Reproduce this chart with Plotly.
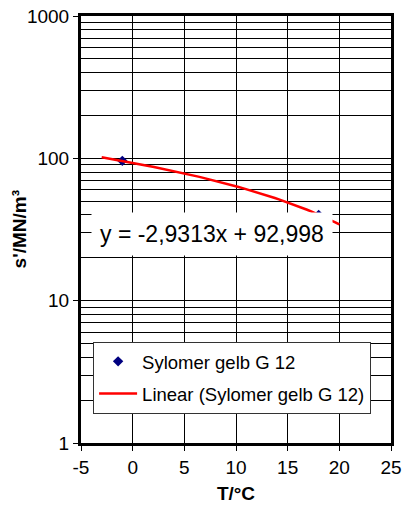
import plotly.graph_objects as go
import numpy as np

# Data
temp_c = [-1, 18]
s_values = [96, 40]
series_name = "Sylomer gelb G 12"
trend_name = "Linear (Sylomer gelb G 12)"
trend_slope = -2.9313
trend_intercept = 92.998
trend_x_range = [-3, 20]
equation_text = "y = -2,9313x + 92,998"
x_title = "T/°C"
y_title = "s'/MN/m³"

y_major = [1, 10, 100, 1000]
y_minor = [m * 10 ** e for e in range(0, 3) for m in range(2, 10)]
x_ticks = [-5, 0, 5, 10, 15, 20, 25]

trend_x = np.linspace(trend_x_range[0], trend_x_range[1], 60)
trend_y = trend_slope * trend_x + trend_intercept

FONT = "Liberation Sans, Arial, sans-serif"

fig = go.Figure()
fig.add_trace(go.Scatter(
    x=temp_c, y=s_values, mode="markers", name=series_name,
    marker=dict(symbol="diamond", size=8, color="#000080"),
    legendgroup="a",
))
fig.add_trace(go.Scatter(
    x=trend_x, y=trend_y, mode="lines", name=trend_name,
    line=dict(color="#FF0000", width=2.5),
    legendgroup="b",
))

fig.add_annotation(
    x=7.7, y=np.log10(29.2), xref="x", yref="y",
    text=equation_text, showarrow=False,
    font=dict(family=FONT, size=23, color="black"),
    bgcolor="white", borderpad=8,
)

# y-axis title placed as rotated text
fig.add_annotation(
    x=-0.197, y=0.50, xref="paper", yref="paper",
    text="<b>" + y_title + "</b>", showarrow=False, textangle=-90,
    xanchor="center", yanchor="middle",
    font=dict(family=FONT, size=19, color="black"),
)

fig.update_layout(
    width=403, height=511,
    margin=dict(l=81, r=12, t=16, b=68),
    paper_bgcolor="white", plot_bgcolor="white",
    font=dict(family=FONT, color="black"),
    showlegend=True,
    legend=dict(
        x=0.039, y=0.237, xanchor="left", yanchor="top",
        bgcolor="white", bordercolor="#333333", borderwidth=1,
        font=dict(family=FONT, size=18.5, color="black"),
        tracegroupgap=5, itemwidth=38,
    ),
)

fig.update_xaxes(
    range=[-5, 25], tickvals=x_ticks, ticktext=[str(v) for v in x_ticks],
    showgrid=True, gridcolor="black", gridwidth=1,
    showline=True, linecolor="black", linewidth=3, mirror=True,
    ticks="outside", ticklen=5, tickcolor="black", tickwidth=1,
    tickfont=dict(family=FONT, size=19),
    title=dict(text="<b>" + x_title + "</b>", font=dict(family=FONT, size=19), standoff=10),
    zeroline=False, automargin=False,
)
fig.update_yaxes(
    type="log", range=[0, 3], tickvals=y_major, ticktext=[str(v) for v in y_major],
    showgrid=True, gridcolor="black", gridwidth=1,
    minor=dict(tickvals=y_minor, showgrid=True, gridcolor="black", gridwidth=1, ticks=""),
    showline=True, linecolor="black", linewidth=3, mirror=True,
    ticks="outside", ticklen=5, tickcolor="black", tickwidth=1,
    tickfont=dict(family=FONT, size=19),
    zeroline=False, automargin=False,
)

fig.write_html("out.html")
